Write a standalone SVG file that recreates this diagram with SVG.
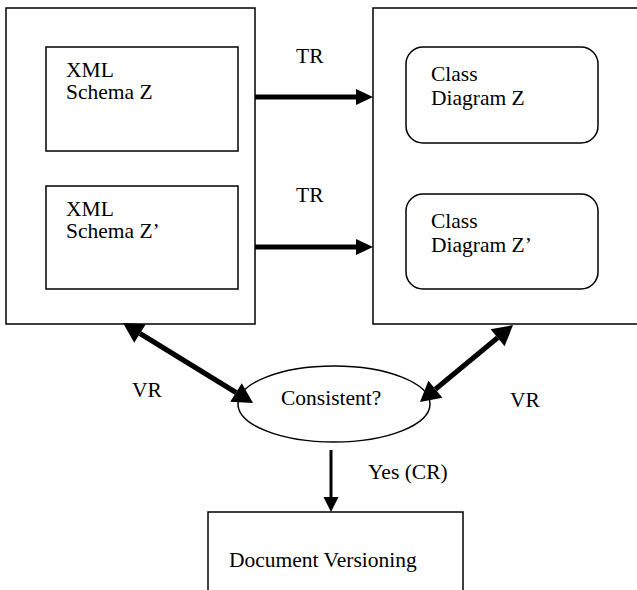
<svg xmlns="http://www.w3.org/2000/svg" width="637" height="590" viewBox="0 0 637 590">
<style>
  .box { fill: #fff; stroke: #000; stroke-width: 1.5; }
  .t { font-family: "Liberation Serif", "Times New Roman", serif; font-size: 21.5px; fill: #000; }
  .thick { stroke: #000; stroke-width: 5; fill: none; }
  .thin { stroke: #000; stroke-width: 3; fill: none; }
</style>
<defs>
  <marker id="ah" markerUnits="userSpaceOnUse" viewBox="0 0 17 16" markerWidth="17" markerHeight="16" refX="0" refY="8" orient="auto-start-reverse" overflow="visible">
    <path d="M0,0 L17,8 L0,16 z" fill="#000"/>
  </marker>
  <marker id="ahv" markerUnits="userSpaceOnUse" viewBox="0 0 20 22" markerWidth="20" markerHeight="22" refX="0" refY="11" orient="auto-start-reverse" overflow="visible">
    <path d="M0,0 L20,11 L0,22 z" fill="#000"/>
  </marker>
  <marker id="ahd" markerUnits="userSpaceOnUse" viewBox="0 0 15 15" markerWidth="15" markerHeight="15" refX="0" refY="7.5" orient="auto" overflow="visible">
    <path d="M0,0 L15,7.5 L0,15 z" fill="#000"/>
  </marker>
</defs>

<g id="xml-group">
  <rect class="box" x="6" y="8" width="249" height="316"/>
</g>
<g id="xml-schema-z">
  <rect class="box" x="46" y="47" width="192" height="104"/>
  <text class="t" x="66" y="77">XML</text>
  <text class="t" x="66" y="99">Schema Z</text>
</g>
<g id="xml-schema-z2">
  <rect class="box" x="46" y="186" width="192" height="103"/>
  <text class="t" x="66" y="216">XML</text>
  <text class="t" x="66" y="238">Schema Z’</text>
</g>

<g id="class-group">
  <rect class="box" x="373" y="8" width="280" height="316"/>
</g>
<g id="class-diagram-z">
  <rect class="box" x="406" y="47" width="192" height="96" rx="17" ry="17"/>
  <text class="t" x="431" y="81">Class</text>
  <text class="t" x="431" y="105">Diagram Z</text>
</g>
<g id="class-diagram-z2">
  <rect class="box" x="406" y="194" width="192" height="95" rx="17" ry="17"/>
  <text class="t" x="431" y="228">Class</text>
  <text class="t" x="431" y="252">Diagram Z’</text>
</g>

<g id="consistent">
  <ellipse class="box" cx="334" cy="404" rx="96" ry="38"/>
  <text class="t" x="281" y="405">Consistent?</text>
</g>

<g id="document-versioning">
  <rect class="box" x="208" y="512" width="255" height="100"/>
  <text class="t" x="229" y="567">Document Versioning</text>
</g>

<g id="connectors">
  <line class="thick" x1="255" y1="97" x2="356" y2="97" marker-end="url(#ah)"/>
  <line class="thick" x1="255" y1="247" x2="356" y2="247" marker-end="url(#ah)"/>
  <line class="thick" x1="140" y1="333.5" x2="236" y2="392.5" marker-start="url(#ahv)" marker-end="url(#ahv)"/>
  <line class="thick" x1="497.6" y1="337.8" x2="435.4" y2="389.2" marker-start="url(#ahv)" marker-end="url(#ahv)"/>
  <line class="thin" x1="331" y1="450" x2="331" y2="497" marker-end="url(#ahd)"/>
  <text class="t" x="296" y="63">TR</text>
  <text class="t" x="296" y="202">TR</text>
  <text class="t" x="132" y="397">VR</text>
  <text class="t" x="510" y="407">VR</text>
  <text class="t" x="368" y="479">Yes (CR)</text>
</g>
</svg>
